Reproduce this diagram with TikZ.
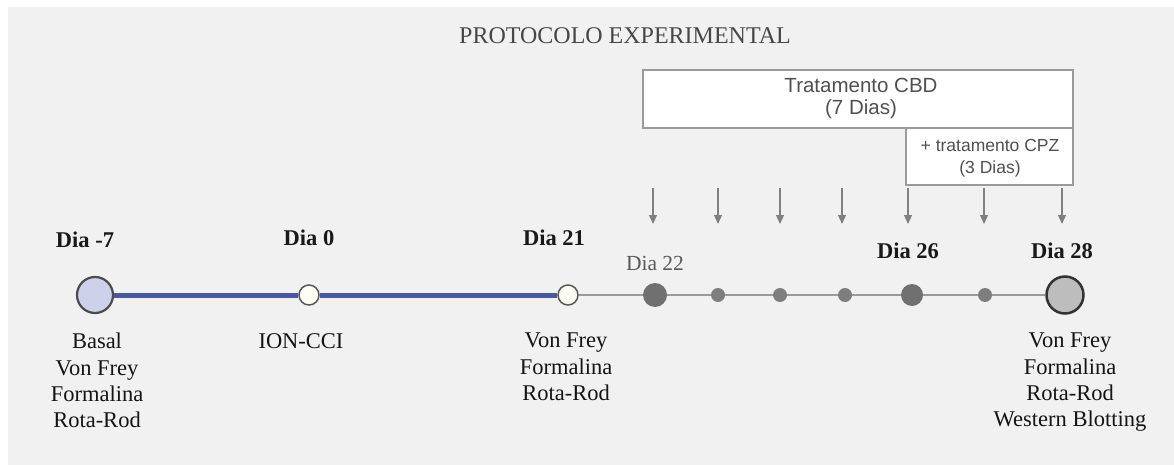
\documentclass[tikz,border=0pt]{standalone}
\usepackage{fontspec}
\setmainfont{Liberation Serif}
\newfontfamily\boxfont{Liberation Sans}
\usetikzlibrary{arrows.meta}
\definecolor{bgc}{HTML}{F1F1F1}
\definecolor{bluel}{HTML}{4A58A2}
\definecolor{grayl}{HTML}{9A9A9A}
\definecolor{lav}{HTML}{CDD2EA}
\definecolor{darkdot}{HTML}{707070}
\definecolor{midgray}{HTML}{BDBDBD}
\definecolor{boxtxt}{HTML}{505050}
\begin{document}
\begin{tikzpicture}[x=1pt,y=-1pt,
  daylbl/.style={font=\fontsize{22.5}{24}\selectfont\bfseries, text=black!90, inner sep=0pt},
  sublbl/.style={font=\fontsize{22.5}{26.3}\selectfont, text=black!92, align=center, inner sep=0pt, anchor=north},
  smalldot/.style={circle, fill=darkdot!90, minimum size=14pt, inner sep=0pt},
  bigdot/.style={circle, fill=darkdot, minimum size=24pt, inner sep=0pt},
  opendot/.style={circle, draw=black!65, line width=1.5pt, fill=white!96!yellow, minimum size=20pt, inner sep=0pt},
  treatbox/.style={draw=grayl, line width=1.4pt, fill=white, inner sep=0pt},
  dose/.style={draw=gray, line width=1.3pt, -{Triangle[length=9pt,width=8pt]}}
]
\useasboundingbox (0,0) rectangle (1174,465);
\fill[white] (0,0) rectangle (1174,465);
\fill[bgc] (8,7) rectangle (1174,465);

% title
\node[font=\fontsize{24}{26}\selectfont, text=black!72] (title) at (625,36) {PROTOCOLO EXPERIMENTAL};

% treatment boxes
\node[treatbox, minimum width=430pt, minimum height=58pt] (cbd) at (858,99) {};
\node[font=\boxfont\fontsize{20.5}{22}\selectfont, text=boxtxt, align=center] (cbdt) at (861,98) {Tratamento CBD\\(7 Dias)};
\node[treatbox, minimum width=167pt, minimum height=57pt] (cpz) at (989.5,156.5) {};
\node[font=\boxfont\fontsize{17.5}{21.5}\selectfont, text=boxtxt, align=center] (cpzt) at (990,158) {+ tratamento CPZ\\(3 Dias)};

% timeline nodes
\node[circle, draw=black!70, line width=2.2pt, fill=lav, minimum size=36pt, inner sep=0pt] (m7) at (95,295) {};
\node[opendot] (d0) at (309,295) {};
\node[opendot] (d21) at (568,295) {};
\node[bigdot] (d22) at (655,295) {};
\node[smalldot] (d23) at (718,295) {};
\node[smalldot] (d24) at (780,295) {};
\node[smalldot] (d25) at (845,295) {};
\node[bigdot, minimum size=22pt] (d26) at (912,295) {};
\node[smalldot] (d27) at (985,295) {};
\node[circle, draw=black!80, line width=2.5pt, fill=midgray, minimum size=37pt, inner sep=0pt] (d28) at (1065,295) {};

% connecting lines
\draw[bluel, line width=5pt] (m7) -- (d0);
\draw[bluel, line width=5pt] (d0) -- (d21);
\draw[grayl, line width=2pt] (d21) -- (d22);
\draw[grayl, line width=2pt] (d22) -- (d23);
\draw[grayl, line width=2pt] (d23) -- (d24);
\draw[grayl, line width=2pt] (d24) -- (d25);
\draw[grayl, line width=2pt] (d25) -- (d26);
\draw[grayl, line width=2pt] (d26) -- (d27);
\draw[grayl, line width=2pt] (d27) -- (d28);

% day labels
\node[daylbl] (l7) at (85,240) {Dia -7};
\node[daylbl] (l0) at (309,238) {Dia 0};
\node[daylbl] (l21) at (554,238) {Dia 21};
\node[font=\fontsize{21.5}{24}\selectfont, text=black!65, inner sep=0pt] (l22) at (655,263) {Dia 22};
\node[daylbl] (l26) at (908,251) {Dia 26};
\node[daylbl] (l28) at (1062,251) {Dia 28};

% sub labels
\node[sublbl] (s7) at (97,333) {Basal\\Von Frey\\Formalina\\Rota-Rod};
\node[sublbl] (s0) at (301,333) {ION-CCI};
\node[sublbl] (s21) at (566,333) {Von Frey\\Formalina\\Rota-Rod};
\node[sublbl] (s28) at (1070,333) {Von Frey\\Formalina\\Rota-Rod\\Western Blotting};

% dose arrows
\foreach \i/\x in {1/653,2/718,3/780,4/842,5/908,6/984,7/1062}{
  \coordinate (a\i s) at (\x,188);
  \coordinate (a\i e) at (\x,224);
  \draw[dose] (a\i s) -- (a\i e);
}
\end{tikzpicture}
\end{document}
